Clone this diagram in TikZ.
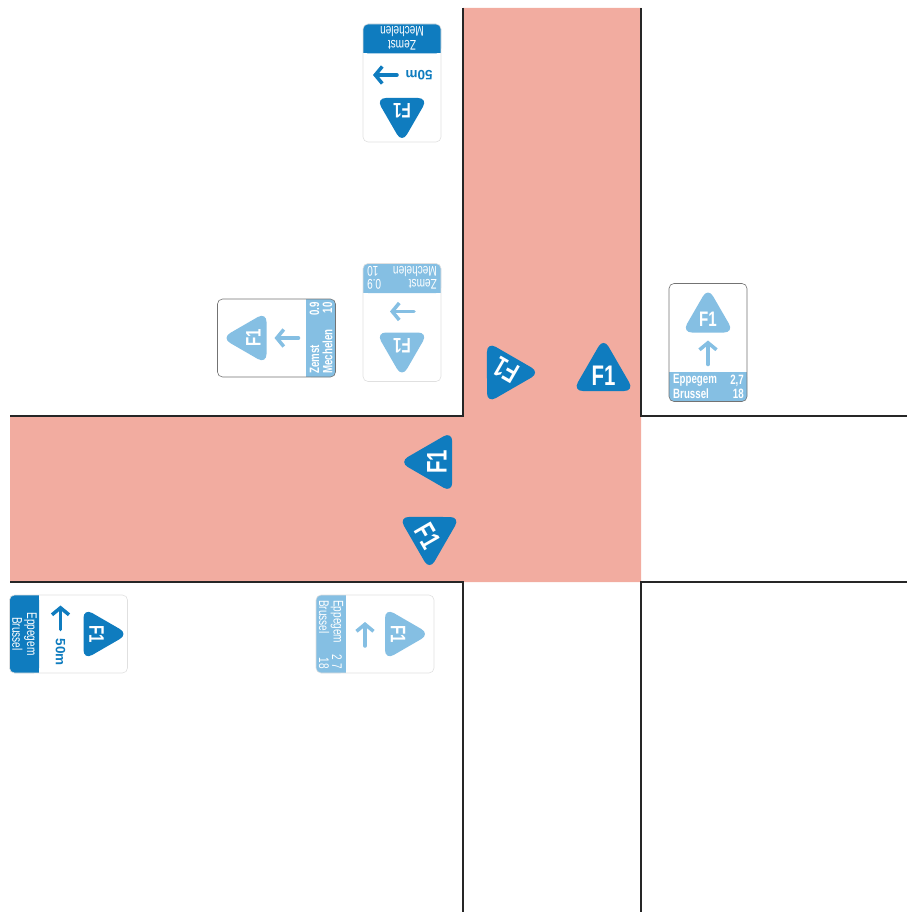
\documentclass[tikz,border=0pt]{standalone}
\usepackage{fontspec}
\setmainfont{Liberation Sans}
\newfontfamily\signfont[FakeStretch=0.72]{Liberation Sans}
\usetikzlibrary{arrows.meta}
\definecolor{roadpink}{HTML}{F2ACA0}
\definecolor{signdark}{HTML}{0F7CBF}
\definecolor{signlight}{HTML}{85BFE3}
\tikzset{
  curb/.style={line width=1.6pt, draw=black!85},
  signtxt/.style={text=white, inner sep=0pt, align=left, transform shape, font=\signfont\fontsize{14}{14}\selectfont},
  signbold/.style={signtxt, font=\signfont\bfseries\fontsize{13.5}{14}\selectfont},
  disttxt/.style={text=signdark, inner sep=0pt, transform shape, font=\bfseries\fontsize{13.5}{14}\selectfont},
  pics/ftri/.style 2 args={code={
    \fill[#1, rounded corners=10pt] (0,-30) -- (26,15) -- (-26,15) -- cycle;
    \node[text=white, inner sep=0pt, transform shape, font=\signfont\bfseries\fontsize{#2}{#2}\selectfont] at (0,2) {F1};
  }},
  pics/fsign/.style n args={6}{code={
    \fill[white, rounded corners=5pt] (-39,-59) rectangle (39,59);
    \fill[#1, rounded corners=5pt] (-39,29.5) -- (-39,59) -- (39,59) -- (39,29.5) -- cycle;
    \fill[#1] (-39,29.5) rectangle (39,40);
    \draw[#2, rounded corners=5pt, line width=.6pt] (-39,-59) rectangle (39,59);
    \pic[transform shape] at (0,#5) {ftri={#1}{21}};
    \draw[#1, line width=3.5pt, line cap=round, -{Straight Barb[length=7pt, width=17pt, line width=3.5pt]}]
      (#4) ++(#3+180:12) -- ++(#3:24);
    #6
  }}
}
\begin{document}
\begin{tikzpicture}[x=1pt, y=-1pt]
\useasboundingbox (0,0) rectangle (907,912);
% road surface
\fill[roadpink] (10,416) -- (463,416) -- (463,8) -- (641,8) -- (641,582) -- (10,582) -- cycle;
% curbs
\draw[curb] (463,8) -- (463,416) -- (10,416);
\draw[curb] (10,582) -- (463,582) -- (463,912);
\draw[curb] (641,8) -- (641,416) -- (907,416);
\draw[curb] (641,912) -- (641,582) -- (907,582);
% signs beside the road
\pic[rotate=180] at (402,83) {fsign={signdark}{black!12}{0}{17,8}{-30}{
  \node[disttxt] at (-17,8) {50m};
  \node[signtxt] at (0,38) {Zemst};
  \node[signtxt] at (0,51) {Mechelen};
}};
\pic[rotate=180] at (402,322.5) {fsign={signlight}{black!12}{0}{0,11}{-25}{
  \node[signtxt, anchor=west] at (-35,38) {Zemst};
  \node[signtxt, anchor=west] at (-35,51) {Mechelen};
  \node[signtxt, anchor=east] at (35,38) {0.9};
  \node[signtxt, anchor=east] at (35,51) {10};
}};
\pic[rotate=90] at (276.5,338) {fsign={signlight}{black!55}{-90}{0,10}{-25}{
  \node[signbold, anchor=west] at (-36,38) {Zemst};
  \node[signbold, anchor=west] at (-36,51) {Mechelen};
  \node[signbold, anchor=east] at (36,38) {0.9};
  \node[signbold, anchor=east] at (36,51) {10};
}};
\pic at (708,342.5) {fsign={signlight}{black!55}{-90}{0,10}{-25}{
  \node[signbold, anchor=west] at (-35,38) {Eppegem};
  \node[signbold, anchor=west] at (-35,51) {Brussel};
  \node[signbold, anchor=east] at (36,38) {2,7};
  \node[signbold, anchor=east] at (36,51) {18};
}};
\pic[rotate=-90] at (68.5,634) {fsign={signdark}{black!12}{180}{-16.5,8}{-30}{
  \node[disttxt] at (18,8) {50m};
  \node[signtxt] at (0,38) {Eppegem};
  \node[signtxt] at (0,51) {Brussel};
}};
\pic[rotate=-90] at (375,634) {fsign={signlight}{black!12}{180}{0,10}{-25}{
  \node[signtxt, anchor=west] at (-34,38) {Eppegem};
  \node[signtxt, anchor=west] at (-34,51) {Brussel};
  \node[signtxt, anchor=east] at (35,38) {2 7};
  \node[signtxt, anchor=east] at (35,51) {18};
}};
% markers on the road
\pic[scale=1.18] at (603.5,373.3) {ftri={signdark}{24}};
\pic[rotate=150, scale=1.18] at (504.7,372.5) {ftri={signdark}{24}};
\pic[rotate=90, scale=1.18] at (434.5,462) {ftri={signdark}{24}};
\pic[rotate=-60, scale=1.18] at (429.5,534.7) {ftri={signdark}{24}};
\end{tikzpicture}
\end{document}
